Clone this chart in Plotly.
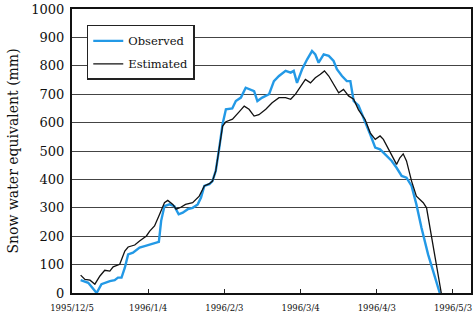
import pandas as pd
import plotly.graph_objects as go

# Day offsets from 1995/12/5 and snow water equivalent (mm)
obs_day = [3.4, 6.4, 9.7, 11.6, 14.9, 16.8, 18.1, 19.5, 20.8, 22.1, 24.0, 26.6, 28.6,
           31.2, 33.2, 34.2, 35.1, 36.4, 38.4, 40.3, 42.0, 43.6, 45.6, 47.5, 49.5,
           50.8, 52.1, 54.1, 55.3, 56.6, 58.0, 58.6, 59.3, 60.6, 63.1, 64.5, 66.5,
           68.4, 70.4, 71.7, 73.0, 74.9, 77.6, 79.5, 81.5, 84.1, 86.1, 87.3, 88.6,
           90.6, 92.6, 94.5, 95.8, 97.1, 99.1, 101.1, 103.0, 104.3, 106.3, 108.2,
           109.6, 110.9, 112.8, 115.4, 117.4, 119.4, 121.3, 123.3, 125.9, 127.8,
           129.8, 131.7, 133.7, 135.6, 137.6, 140.2, 142.8, 144.8]
obs_swe = [45, 36, 0, 31, 42, 45, 54, 54, 89, 136, 142, 160, 165,
           171, 177, 180, 254, 306, 312, 306, 277, 283, 295, 300, 312,
           336, 377, 383, 394, 430, 512, 559, 595, 647, 650, 676, 688,
           723, 717, 711, 676, 688, 700, 746, 764, 782, 776, 782, 740,
           788, 823, 852, 840, 811, 840, 835, 817, 788, 764, 746,
           746, 676, 660, 606, 559, 512, 506, 488, 465, 441,
           412, 406, 377, 312, 230, 136, 54, 0]

est_day = [3.4, 5.1, 7.1, 9.0, 11.0, 12.9, 14.9, 16.2, 18.8, 20.8, 22.1, 24.7, 26.6,
           29.3, 30.6, 32.5, 34.5, 36.4, 37.7, 39.7, 41.0, 42.7, 44.7, 47.5, 50.1,
           52.1, 54.1, 55.3, 56.6, 58.0, 58.6, 59.3, 60.6, 63.2, 65.8, 67.8, 69.7,
           71.7, 73.6, 76.3, 78.8, 81.5, 84.1, 86.1, 88.0, 90.0, 91.9, 93.9, 95.8,
           97.8, 99.4, 101.1, 103.0, 105.0, 106.9, 108.9, 110.9, 112.8, 115.4,
           117.4, 119.4, 121.3, 122.6, 124.6, 126.5, 127.8, 129.1, 130.4, 131.7,
           133.7, 135.6, 138.3, 139.6, 141.5, 143.5, 145.4]
est_swe = [63, 48, 45, 31, 60, 80, 77, 92, 101, 148, 162, 169, 183,
           201, 218, 236, 277, 318, 326, 312, 295, 301, 312, 318, 341,
           377, 385, 394, 430, 512, 553, 588, 603, 612, 638, 658, 647,
           623, 628, 647, 670, 688, 688, 682, 700, 729, 752, 740, 758,
           770, 782, 764, 735, 705, 717, 694, 682, 645, 611,
           564, 541, 553, 541, 506, 476, 453, 476, 490, 465,
           394, 341, 318, 300, 206, 101, 0]

tick_dates = ["1995-12-05", "1996-01-04", "1996-02-03", "1996-03-04", "1996-04-03", "1996-05-03"]
tick_labels = ["1995/12/5", "1996/1/4", "1996/2/3", "1996/3/4", "1996/4/3", "1996/5/3"]

start = pd.Timestamp("1995-12-05")
obs_x = [start + pd.Timedelta(days=d) for d in obs_day]
est_x = [start + pd.Timedelta(days=d) for d in est_day]

SERIF = "DejaVu Serif"

fig = go.Figure()
fig.add_trace(go.Scatter(x=obs_x, y=obs_swe, mode="lines", name="Observed",
                         line=dict(color="#2399e6", width=2.4), legendgroup="a"))
fig.add_trace(go.Scatter(x=est_x, y=est_swe, mode="lines", name="Estimated",
                         line=dict(color="#111111", width=1.3), legendgroup="b"))

fig.update_layout(
    width=475, height=320,
    margin=dict(l=72, r=2, t=8, b=27),
    paper_bgcolor="white", plot_bgcolor="white",
    font=dict(family=SERIF, color="#111"),
    showlegend=True,
    legend=dict(x=0.037, y=0.944, xanchor="left", yanchor="top",
                bgcolor="white", bordercolor="#222", borderwidth=1.5,
                font=dict(family=SERIF, size=11.5, color="#111"),
                tracegroupgap=4, traceorder="grouped"),
)

fig.update_xaxes(
    type="date",
    range=[start, start + pd.Timedelta(days=157.1)],
    tickvals=tick_dates, ticktext=tick_labels,
    ticks="inside", ticklen=4, tickwidth=1, tickcolor="#222",
    ticklabelstandoff=6,
    tickfont=dict(family=SERIF, size=8.5, color="#111"),
    showgrid=False, zeroline=False,
    showline=True, linecolor="#111", linewidth=2, mirror=True,
)
fig.update_yaxes(
    range=[0, 1000], dtick=100,
    tickfont=dict(family=SERIF, size=13, color="#111"),
    ticks="", ticklabelstandoff=3,
    showgrid=True, gridcolor="#444", gridwidth=1.2,
    zeroline=False,
    showline=True, linecolor="#111", linewidth=2, mirror=True,
    title=dict(text="Snow water equivalent (mm)", standoff=9,
               font=dict(family=SERIF, size=14, color="#111")),
)

fig.write_html("out.html")
